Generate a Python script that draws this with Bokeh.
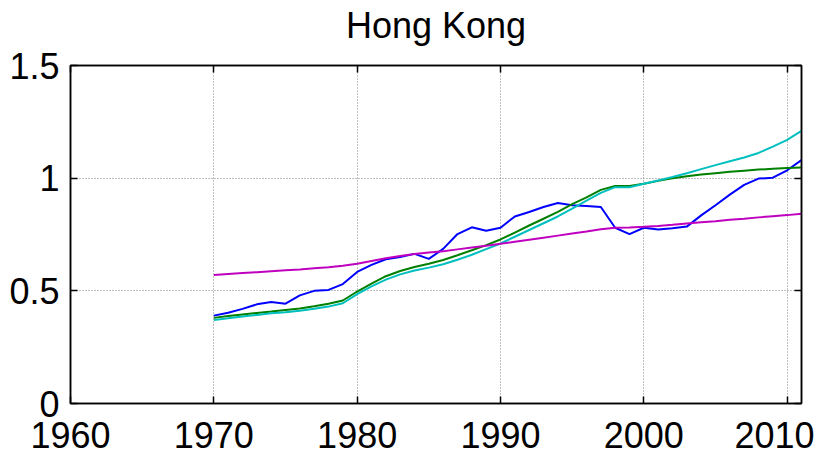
from bokeh.plotting import figure
from bokeh.models import FixedTicker, LinearAxis, Range1d
from bokeh.embed import file_html
from bokeh.resources import INLINE

years = list(range(1970, 2012))

blue = [0.390, 0.403, 0.420, 0.440, 0.450, 0.443, 0.480, 0.500, 0.504, 0.530,
        0.584, 0.615, 0.640, 0.650, 0.664, 0.642, 0.686, 0.752, 0.782, 0.767,
        0.780, 0.830, 0.850, 0.872, 0.890, 0.880, 0.877, 0.872, 0.780, 0.752,
        0.780, 0.772, 0.778, 0.785, 0.835, 0.880, 0.927, 0.970, 0.998, 1.002,
        1.035, 1.080]
green = [0.380, 0.388, 0.395, 0.402, 0.408, 0.415, 0.422, 0.432, 0.443, 0.457,
         0.497, 0.532, 0.565, 0.588, 0.606, 0.620, 0.637, 0.658, 0.680, 0.703,
         0.728, 0.758, 0.790, 0.820, 0.850, 0.885, 0.915, 0.948, 0.965, 0.965,
         0.975, 0.988, 1.000, 1.008, 1.016, 1.022, 1.028, 1.033, 1.038, 1.042,
         1.045, 1.047]
cyan = [0.370, 0.378, 0.386, 0.393, 0.400, 0.405, 0.412, 0.420, 0.430, 0.445,
        0.485, 0.520, 0.550, 0.573, 0.590, 0.603, 0.618, 0.638, 0.660, 0.685,
        0.710, 0.740, 0.770, 0.800, 0.830, 0.865, 0.900, 0.935, 0.960, 0.960,
        0.975, 0.990, 1.005, 1.022, 1.040, 1.058, 1.075, 1.092, 1.112, 1.140,
        1.170, 1.210]
magenta = [0.570, 0.575, 0.579, 0.583, 0.587, 0.591, 0.595, 0.600, 0.605, 0.611,
           0.620, 0.632, 0.645, 0.655, 0.663, 0.670, 0.676, 0.684, 0.692, 0.700,
           0.709, 0.718, 0.727, 0.736, 0.745, 0.754, 0.763, 0.773, 0.780, 0.781,
           0.784, 0.788, 0.793, 0.799, 0.804, 0.809, 0.815, 0.820, 0.826, 0.831,
           0.836, 0.842]

x_ticks = [1960, 1970, 1980, 1990, 2000, 2010]
y_ticks = [0, 0.5, 1, 1.5]
y_labels = {0: "0", 0.5: "0.5", 1: "1", 1.5: "1.5"}
title_text = "Hong Kong"

FONT = "Liberation Sans"

p = figure(width=814, height=457, output_backend="svg", toolbar_location=None,
           x_range=Range1d(1960, 2011), y_range=Range1d(0, 1.5),
           min_border_left=70, min_border_right=13, min_border_top=65,
           min_border_bottom=54)

p.outline_line_color = "black"
p.outline_line_width = 1.5
p.background_fill_color = "white"
p.border_fill_color = "white"

for ax in (p.xaxis[0], p.yaxis[0]):
    ax.major_tick_in = 7
    ax.major_tick_out = 0
    ax.minor_tick_in = 0
    ax.minor_tick_out = 0
    ax.axis_line_color = "black"
    ax.axis_line_width = 1.5
    ax.major_tick_line_color = "black"
    ax.major_tick_line_width = 1.5
    ax.major_label_text_font = FONT
    ax.major_label_text_font_size = "36px"
    ax.major_label_text_color = "black"

p.xaxis[0].ticker = FixedTicker(ticks=x_ticks)
p.yaxis[0].ticker = FixedTicker(ticks=y_ticks)
p.yaxis[0].major_label_overrides = y_labels
p.xaxis[0].major_label_standoff = 18
p.yaxis[0].major_label_standoff = 11

# mirrored tick-only axes (no tick labels); the top one carries the title
axes = {}
for side, tk in (("right", y_ticks), ("above", x_ticks)):
    ax = LinearAxis(ticker=FixedTicker(ticks=tk))
    ax.major_tick_in = 7
    ax.major_tick_out = 0
    ax.minor_tick_in = 0
    ax.minor_tick_out = 0
    ax.major_label_overrides = {t: "" for t in tk}
    ax.major_label_text_color = None
    ax.major_label_standoff = 0
    ax.axis_line_color = "black"
    ax.axis_line_width = 1.5
    ax.major_tick_line_color = "black"
    ax.major_tick_line_width = 1.5
    p.add_layout(ax, side)
    axes[side] = ax

top = axes["above"]
top.axis_label = title_text
top.axis_label_text_font = FONT
top.axis_label_text_font_size = "36px"
top.axis_label_text_font_style = "normal"
top.axis_label_text_color = "black"
top.axis_label_standoff = 20

p.xgrid.ticker = FixedTicker(ticks=x_ticks)
p.ygrid.ticker = FixedTicker(ticks=y_ticks)
for g in (p.xgrid[0], p.ygrid[0]):
    g.grid_line_color = "#808080"
    g.grid_line_dash = "1 2"
    g.grid_line_width = 1

p.line(years, blue, line_color="#0000FF", line_width=2)
p.line(years, green, line_color="#008000", line_width=2)
p.line(years, cyan, line_color="#00BFBF", line_width=2)
p.line(years, magenta, line_color="#BF00BF", line_width=2)

open("out.html", "w").write(file_html(p, INLINE))
